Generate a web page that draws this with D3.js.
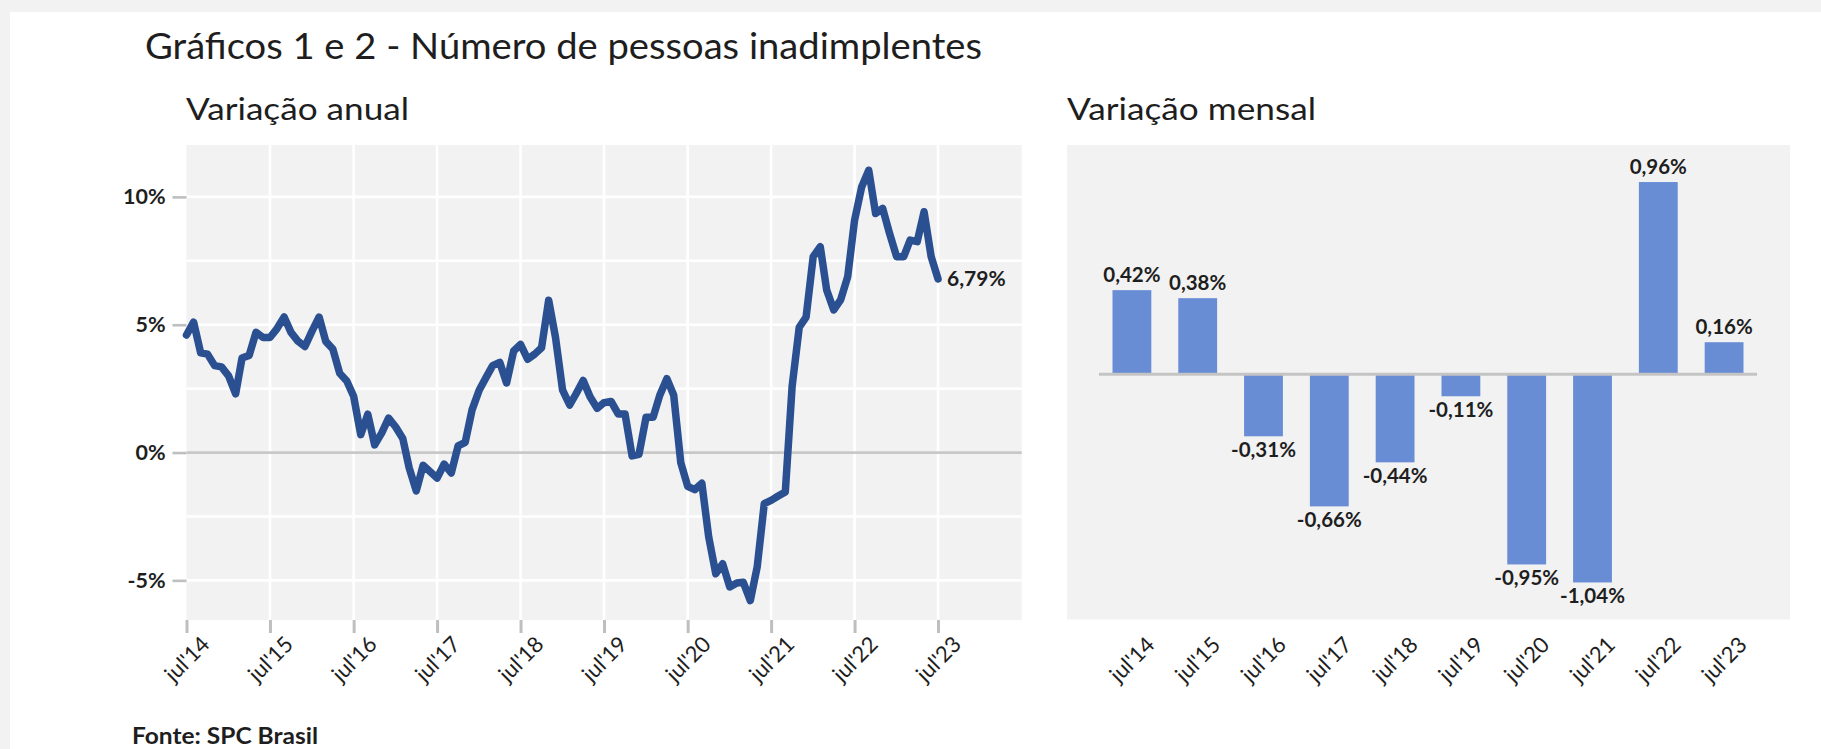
<!DOCTYPE html>
<html><head><meta charset="utf-8">
<script src="https://cdn.jsdelivr.net/npm/d3@7/dist/d3.min.js"></script>
<style>
html,body{margin:0;padding:0;background:#f2f2f2;overflow:hidden;}
svg{display:block;}
text{font-family:Lato,"Open Sans",sans-serif;fill:#1e1e1e;}
</style></head><body>
<svg id="chart" width="1821" height="749"></svg>
<script>
// ---------- DATA ----------
const titleText = "Gráficos 1 e 2 - Número de pessoas inadimplentes";
const subtitleAnnual = "Variação anual";
const subtitleMonthly = "Variação mensal";
const sourceText = "Fonte: SPC Brasil";

// Annual variation, monthly points from jul/2014 to jul/2023 (%)
const annualFirstMonth = [2014, 6]; // year, month index (July)
const annualValues = [
  4.6, 5.1, 3.9, 3.85, 3.4, 3.35, 3.0, 2.3, 3.7, 3.8, 4.7, 4.5,       // jul14-jun15
  4.5, 4.85, 5.3, 4.7, 4.35, 4.15, 4.75, 5.3, 4.35, 4.05, 3.1, 2.8,   // jul15-jun16
  2.2, 0.7, 1.5, 0.3, 0.77, 1.35, 1.0, 0.55, -0.6, -1.5, -0.5, -0.75, // jul16-jun17
  -1.0, -0.45, -0.8, 0.26, 0.4, 1.67, 2.44, 2.95, 3.4, 3.53, 2.72, 3.97, // jul17-jun18
  4.23, 3.65, 3.85, 4.1, 5.96, 4.5, 2.44, 1.86, 2.3, 2.82, 2.18, 1.73, // jul18-jun19
  1.95, 2.0, 1.51, 1.51, -0.13, -0.07, 1.38, 1.38, 2.24, 2.89, 2.24, -0.4, // jul19-jun20
  -1.32, -1.45, -1.2, -3.3, -4.74, -4.35, -5.26, -5.1, -5.07, -5.79, -4.48, -2.0, // jul20-jun21
  -1.87, -1.7, -1.54, 2.6, 4.9, 5.3, 7.66, 8.05, 6.36, 5.58, 5.97, 6.88, // jul21-jun22
  9.09, 10.39, 11.04, 9.35, 9.55, 8.57, 7.66, 7.66, 8.31, 8.25, 9.42, 7.66, // jul22-jun23
  6.79                                                                  // jul23
];
const annualTickLabels = ["jul'14","jul'15","jul'16","jul'17","jul'18","jul'19","jul'20","jul'21","jul'22","jul'23"];
const annualTickYears = [2014,2015,2016,2017,2018,2019,2020,2021,2022,2023];
const yTickValues = [-5, 0, 5, 10];
const yGridValues = [-5, -2.5, 2.5, 5, 7.5, 10];
const lastPointLabel = "6,79%";

// Monthly variation (July of each year, %)
const monthlyCategories = ["jul'14","jul'15","jul'16","jul'17","jul'18","jul'19","jul'20","jul'21","jul'22","jul'23"];
const monthlyValues = [0.42, 0.38, -0.31, -0.66, -0.44, -0.11, -0.95, -1.04, 0.96, 0.16];

// ---------- DRAW ----------
const svg = d3.select("#chart");
const fmtPct = v => v.toFixed(2).replace(".", ",") + "%";

// white card
svg.append("rect").attr("x", 10).attr("y", 12).attr("width", 1811).attr("height", 737).attr("fill", "#ffffff");

// titles
svg.append("text").attr("x", 145).attr("y", 59).attr("font-size", 37)
  .attr("textLength", 837).attr("lengthAdjust", "spacingAndGlyphs").text(titleText);
svg.append("text").attr("x", 186).attr("y", 120).attr("font-size", 31.5)
  .attr("textLength", 223).attr("lengthAdjust", "spacingAndGlyphs").text(subtitleAnnual);
svg.append("text").attr("x", 1067).attr("y", 120).attr("font-size", 31.5)
  .attr("textLength", 249).attr("lengthAdjust", "spacingAndGlyphs").text(subtitleMonthly);
svg.append("text").attr("x", 132).attr("y", 744).attr("font-size", 23.5).attr("font-weight", "bold")
  .attr("textLength", 186).attr("lengthAdjust", "spacingAndGlyphs").text(sourceText);

// ===== Chart 1: annual line =====
const L = {left: 186.5, right: 1021.7, top: 145, bottom: 620};
const annualDates = annualValues.map((v, i) => new Date(annualFirstMonth[0], annualFirstMonth[1] + i, 1));
const x1 = d3.scaleTime()
  .domain([new Date(2014, 6, 1), new Date(2024, 6, 1)])
  .range([L.left, L.right]);
const y1 = d3.scaleLinear().domain([-6.55, 12.03]).range([L.bottom, L.top]);
const tickDates = annualTickYears.map(yr => new Date(yr, 6, 1));

const g1 = svg.append("g");
g1.append("rect").attr("x", L.left).attr("y", L.top)
  .attr("width", L.right - L.left).attr("height", L.bottom - L.top).attr("fill", "#f2f2f2");

// white gridlines
g1.selectAll(".hg").data(yGridValues).join("line")
  .attr("x1", L.left).attr("x2", L.right)
  .attr("y1", d => y1(d)).attr("y2", d => y1(d))
  .attr("stroke", "#ffffff").attr("stroke-width", 2.6);
g1.selectAll(".vg").data(tickDates.slice(1)).join("line")
  .attr("x1", d => x1(d)).attr("x2", d => x1(d))
  .attr("y1", L.top).attr("y2", L.bottom)
  .attr("stroke", "#ffffff").attr("stroke-width", 2.6);

// y axis (ticks + labels)
const yAxis = d3.axisLeft(y1).tickValues(yTickValues).tickSize(14).tickPadding(7)
  .tickFormat(d => d + "%");
const gy = g1.append("g").attr("transform", `translate(${L.left},0)`).call(yAxis);
gy.select(".domain").remove();
gy.selectAll(".tick line").attr("stroke", "#bfbfbf").attr("stroke-width", 2.6);
gy.selectAll(".tick text").attr("font-size", 21.5).attr("font-weight", "bold")
  .attr("font-family", "Lato, sans-serif").attr("fill", "#1e1e1e");

// zero line
g1.append("line").attr("x1", L.left).attr("x2", L.right)
  .attr("y1", y1(0)).attr("y2", y1(0)).attr("stroke", "#c8c8c8").attr("stroke-width", 2.8);

// x axis
const xAxis = d3.axisBottom(x1).tickValues(tickDates).tickSize(13).tickFormat((d, i) => annualTickLabels[i]);
const gx = g1.append("g").attr("transform", `translate(0,${L.bottom})`).call(xAxis);
gx.select(".domain").remove();
gx.selectAll(".tick line").attr("stroke", "#bfbfbf").attr("stroke-width", 3);
gx.selectAll(".tick text")
  .attr("font-size", 22).attr("font-family", "Lato, sans-serif").attr("fill", "#1e1e1e")
  .attr("text-anchor", "middle").attr("y", 0).attr("dy", "0.35em")
  .attr("transform", "translate(0,39) rotate(-45)");

// line
const line = d3.line().x((d, i) => x1(annualDates[i])).y(d => y1(d));
g1.append("path").datum(annualValues).attr("d", line)
  .attr("fill", "none").attr("stroke", "#2a5092").attr("stroke-width", 7.5)
  .attr("stroke-linejoin", "round").attr("stroke-linecap", "round");

// last point label
const lastI = annualValues.length - 1;
g1.append("text").attr("x", x1(annualDates[lastI]) + 9).attr("y", y1(annualValues[lastI]))
  .attr("dy", "0.35em").attr("font-size", 21).attr("font-weight", "bold").text(lastPointLabel);

// ===== Chart 2: monthly bars =====
const B = {left: 1067, right: 1790, top: 145, bottom: 619.5, barLeft: 1099, barRight: 1757};
const g2 = svg.append("g");
g2.append("rect").attr("x", B.left).attr("y", B.top)
  .attr("width", B.right - B.left).attr("height", B.bottom - B.top).attr("fill", "#f2f2f2");

const x2 = d3.scaleBand().domain(monthlyCategories).range([B.barLeft, B.barRight])
  .paddingInner(0.41).paddingOuter(0.205);
const y2 = d3.scaleLinear().domain([-1.225, 1.145]).range([B.bottom, B.top]);

g2.selectAll(".bar").data(monthlyValues).join("rect")
  .attr("x", (d, i) => x2(monthlyCategories[i]))
  .attr("width", x2.bandwidth())
  .attr("y", d => y2(Math.max(0, d)))
  .attr("height", d => Math.abs(y2(d) - y2(0)))
  .attr("fill", "#688dd5");

g2.append("line").attr("x1", B.barLeft).attr("x2", B.barRight)
  .attr("y1", y2(0)).attr("y2", y2(0)).attr("stroke", "#c4c4c4").attr("stroke-width", 3);

g2.selectAll(".bl").data(monthlyValues).join("text")
  .attr("x", (d, i) => x2(monthlyCategories[i]) + x2.bandwidth() / 2)
  .attr("y", d => d >= 0 ? y2(d) - 8 : y2(d) + 21)
  .attr("text-anchor", "middle").attr("font-size", 20.5).attr("font-weight", "bold")
  .text(d => fmtPct(d));

const xAxis2 = d3.axisBottom(x2).tickSize(0);
const gx2 = g2.append("g").attr("transform", `translate(0,${B.bottom})`).call(xAxis2);
gx2.select(".domain").remove();
gx2.selectAll(".tick text")
  .attr("font-size", 22).attr("font-family", "Lato, sans-serif").attr("fill", "#1e1e1e")
  .attr("text-anchor", "middle").attr("y", 0).attr("dy", "0.35em")
  .attr("transform", "translate(0,40) rotate(-45)");
</script>
</body></html>
